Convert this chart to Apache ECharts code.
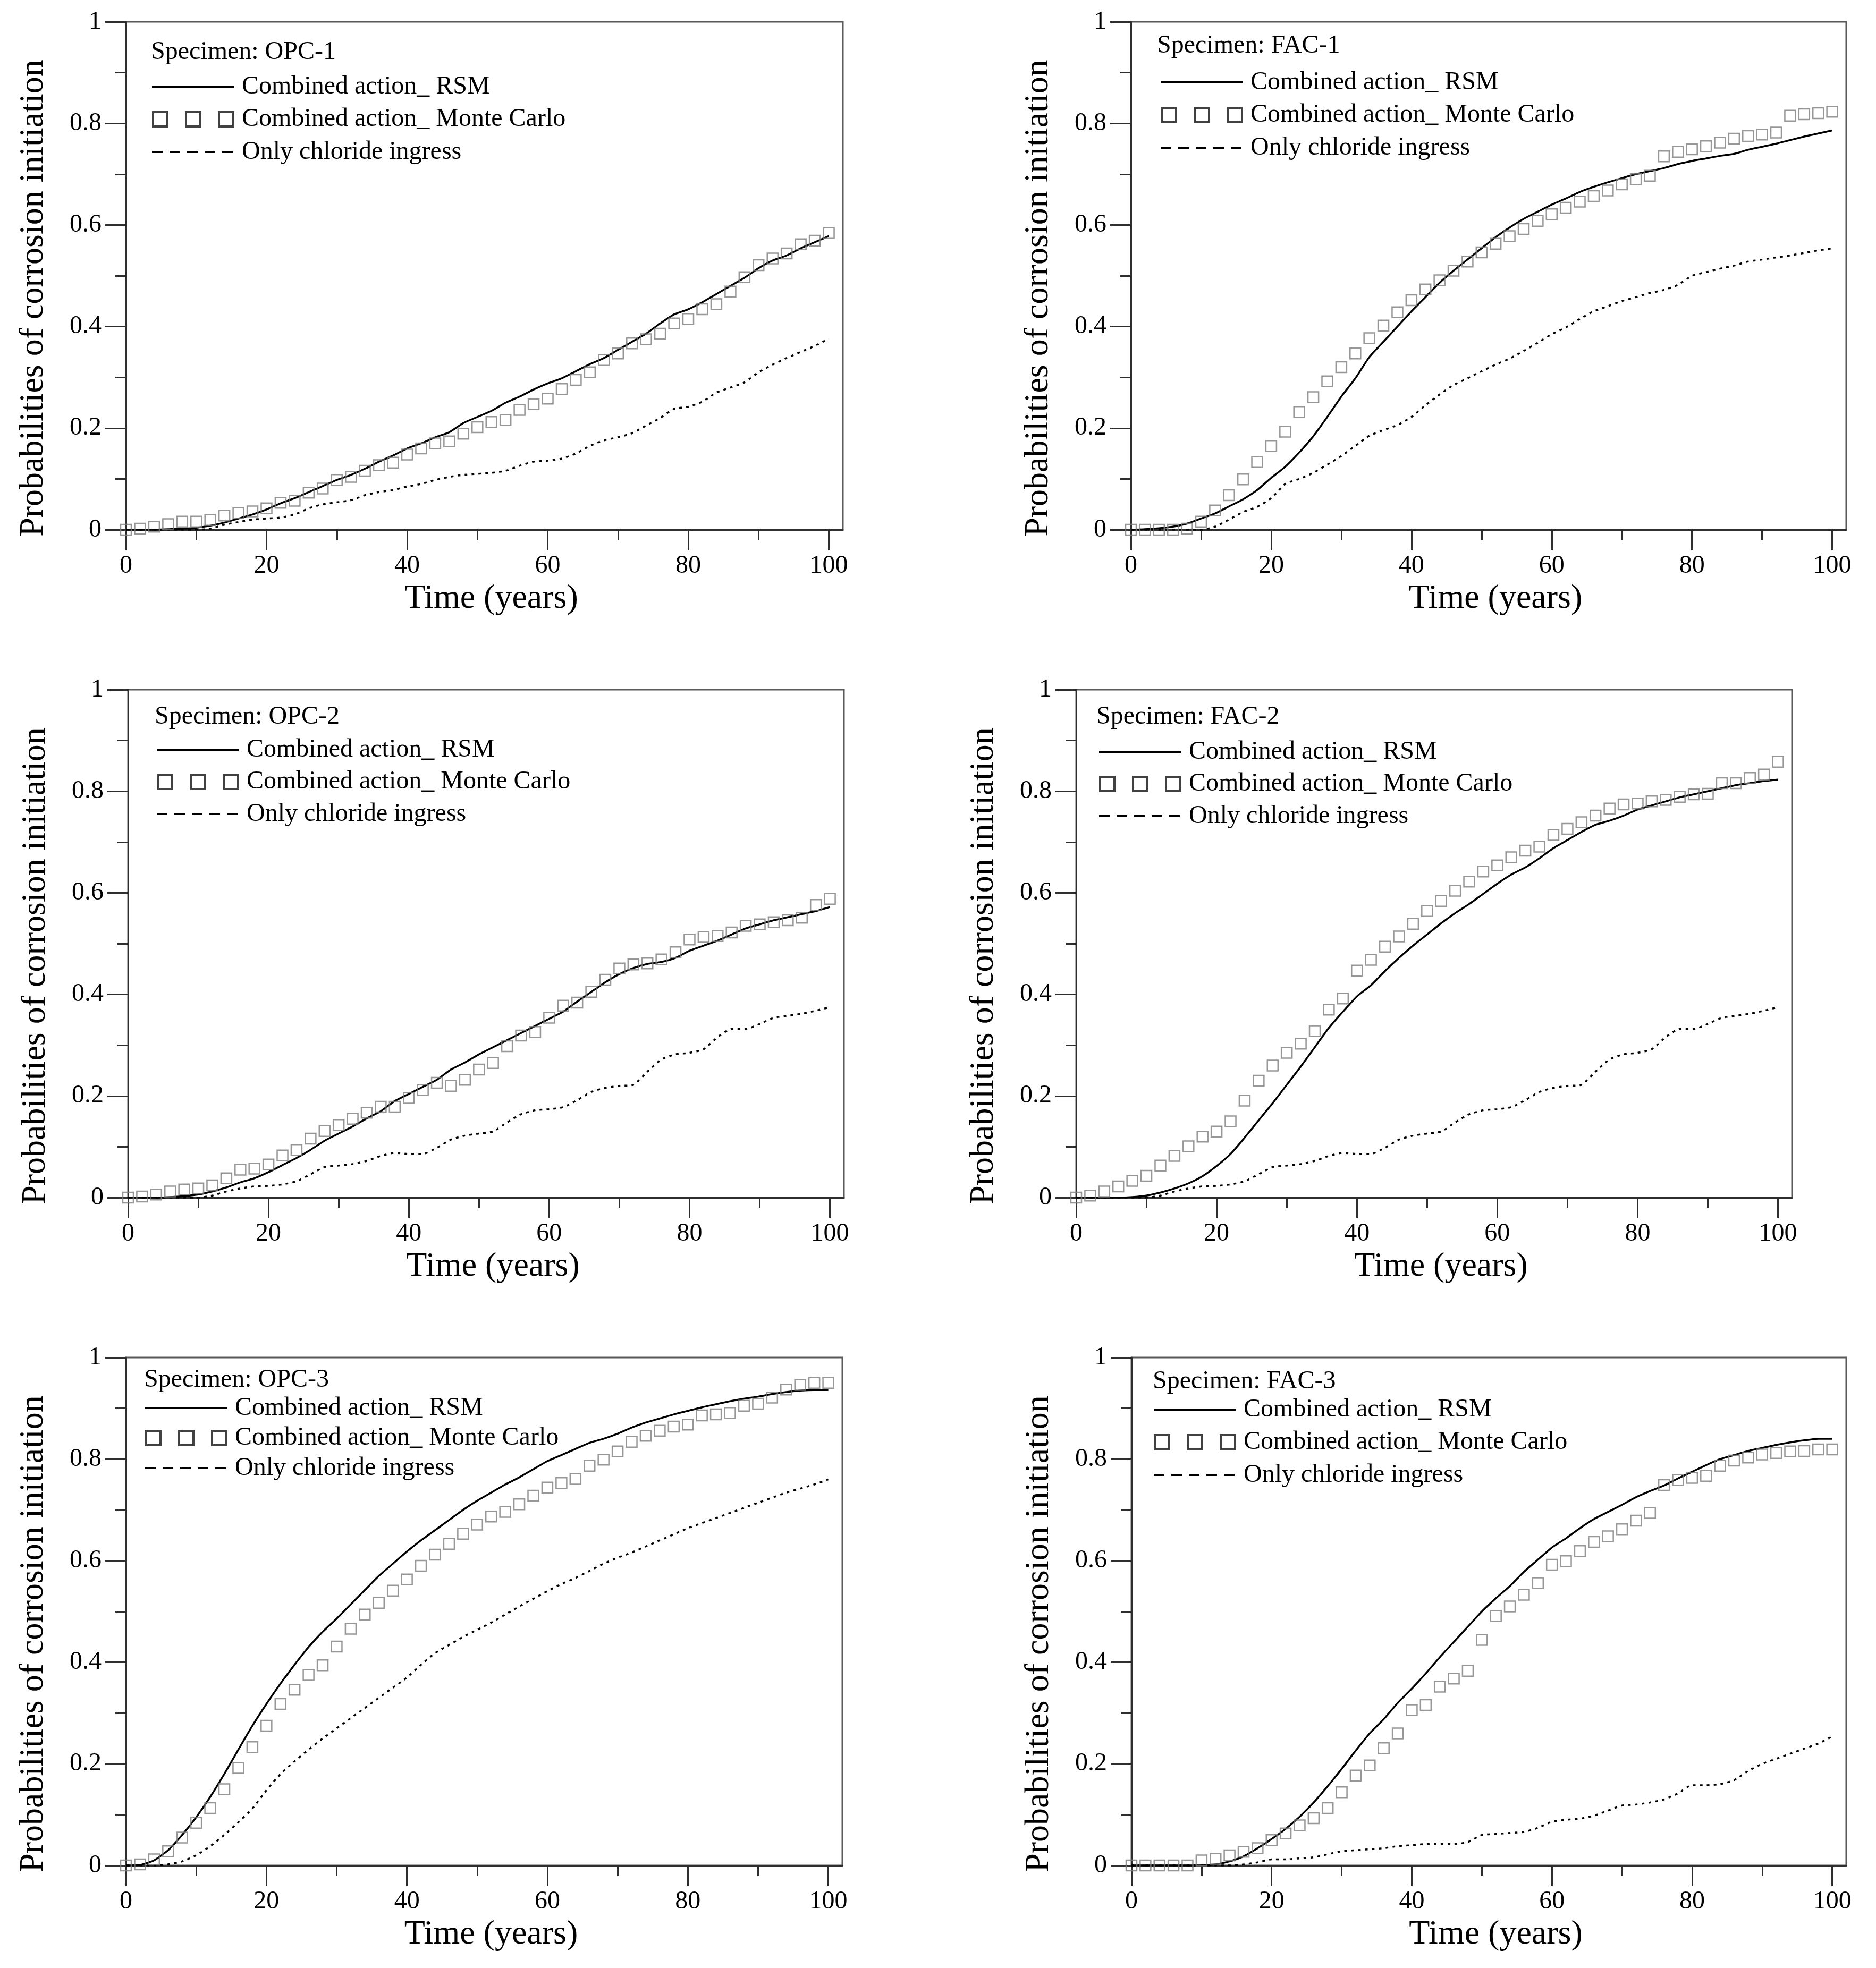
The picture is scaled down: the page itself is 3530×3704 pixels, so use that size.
<!DOCTYPE html>
<html>
<head>
<meta charset="utf-8">
<script src="https://cdn.jsdelivr.net/npm/echarts@6/dist/echarts.min.js"></script>
<style>
html,body{margin:0;padding:0;background:#fff;}
#chart{width:3530px;height:3704px;}
</style>
</head>
<body>
<div id="chart"></div>
<script>
// ---- data ----
const YEARS = [0,2,4,6,8,10,12,14,16,18,20,22,24,26,28,30,32,34,36,38,40,42,44,46,48,50,52,54,56,58,60,62,64,66,68,70,72,74,76,78,80,82,84,86,88,90,92,94,96,98,100];
const X_MAJOR = [0,20,40,60,80,100];
const X_MINOR = [10,30,50,70,90];
const SPECIMENS = ['OPC-1','FAC-1','OPC-2','FAC-2','OPC-3','FAC-3'];
const NAME_RSM = 'Combined action_ RSM';
const NAME_MC = 'Combined action_ Monte Carlo';
const NAME_CL = 'Only chloride ingress';

const OPC1_RSM = [0,0,0,0.001,0.002,0.004,0.008,0.014,0.022,0.03,0.04,0.052,0.062,0.074,0.086,0.098,0.108,0.12,0.134,0.146,0.16,0.17,0.182,0.192,0.21,0.222,0.234,0.25,0.262,0.276,0.288,0.298,0.312,0.326,0.338,0.354,0.37,0.386,0.406,0.424,0.434,0.448,0.464,0.48,0.496,0.515,0.53,0.54,0.554,0.566,0.578];
const OPC1_MC = [0,0.002,0.006,0.011,0.016,0.016,0.019,0.028,0.033,0.036,0.042,0.053,0.057,0.073,0.081,0.098,0.104,0.116,0.127,0.132,0.148,0.160,0.170,0.174,0.189,0.202,0.212,0.216,0.236,0.247,0.258,0.277,0.295,0.310,0.334,0.347,0.367,0.375,0.386,0.406,0.415,0.434,0.444,0.469,0.497,0.521,0.534,0.544,0.562,0.569,0.584];
const OPC1_CL = [0,0,0,0,0,0,0.002,0.01,0.015,0.02,0.022,0.024,0.03,0.042,0.05,0.054,0.058,0.068,0.074,0.078,0.085,0.09,0.098,0.104,0.108,0.11,0.112,0.116,0.126,0.134,0.136,0.14,0.15,0.165,0.176,0.182,0.19,0.205,0.22,0.238,0.242,0.252,0.27,0.28,0.29,0.31,0.325,0.338,0.35,0.362,0.376];

const FAC1_RSM = [0,0.001,0.003,0.006,0.012,0.022,0.032,0.046,0.06,0.078,0.102,0.124,0.152,0.184,0.222,0.262,0.298,0.34,0.37,0.4,0.43,0.458,0.486,0.51,0.532,0.554,0.576,0.595,0.612,0.626,0.64,0.652,0.665,0.675,0.684,0.692,0.7,0.706,0.712,0.72,0.726,0.731,0.736,0.74,0.748,0.754,0.76,0.767,0.774,0.78,0.786];
const FAC1_MC = [0,0,0,0,0.002,0.016,0.038,0.068,0.099,0.133,0.165,0.193,0.232,0.261,0.292,0.320,0.347,0.377,0.402,0.428,0.452,0.473,0.491,0.510,0.528,0.546,0.563,0.578,0.592,0.608,0.621,0.634,0.646,0.657,0.668,0.680,0.690,0.697,0.735,0.744,0.749,0.755,0.762,0.770,0.775,0.778,0.782,0.815,0.818,0.820,0.823];
const FAC1_CL = [0,0,0,0,0,0,0.006,0.02,0.035,0.045,0.062,0.09,0.1,0.112,0.128,0.145,0.165,0.185,0.196,0.206,0.222,0.245,0.266,0.285,0.298,0.312,0.325,0.337,0.352,0.368,0.385,0.398,0.415,0.43,0.44,0.45,0.458,0.466,0.472,0.482,0.5,0.507,0.514,0.52,0.528,0.532,0.536,0.54,0.545,0.55,0.554];

const OPC2_RSM = [0,0,0,0.001,0.003,0.006,0.012,0.02,0.03,0.038,0.05,0.064,0.078,0.094,0.112,0.126,0.14,0.156,0.17,0.19,0.204,0.218,0.232,0.252,0.266,0.282,0.296,0.31,0.324,0.338,0.352,0.366,0.386,0.405,0.424,0.44,0.452,0.46,0.464,0.472,0.486,0.496,0.506,0.518,0.53,0.538,0.546,0.552,0.558,0.564,0.572];
const OPC2_MC = [0,0.002,0.006,0.012,0.016,0.018,0.024,0.038,0.055,0.057,0.065,0.083,0.094,0.116,0.131,0.143,0.155,0.167,0.179,0.179,0.196,0.212,0.226,0.220,0.232,0.252,0.265,0.298,0.319,0.326,0.354,0.378,0.384,0.405,0.429,0.451,0.459,0.461,0.469,0.483,0.508,0.513,0.515,0.522,0.535,0.538,0.542,0.546,0.551,0.576,0.588];
const OPC2_CL = [0,0,0,0,0,0,0.004,0.012,0.018,0.022,0.023,0.026,0.032,0.046,0.06,0.063,0.066,0.072,0.082,0.088,0.086,0.086,0.098,0.114,0.122,0.126,0.13,0.148,0.164,0.172,0.174,0.178,0.192,0.208,0.216,0.22,0.222,0.248,0.272,0.282,0.285,0.292,0.316,0.332,0.332,0.342,0.354,0.358,0.362,0.368,0.375];

const FAC2_RSM = [0,0,0,0,0.001,0.004,0.01,0.018,0.028,0.042,0.062,0.086,0.118,0.152,0.186,0.222,0.258,0.296,0.334,0.366,0.396,0.418,0.446,0.472,0.496,0.518,0.54,0.56,0.578,0.598,0.618,0.636,0.65,0.668,0.688,0.704,0.72,0.734,0.742,0.752,0.764,0.772,0.78,0.788,0.794,0.8,0.806,0.812,0.816,0.82,0.823];
const FAC2_MC = [0,0.004,0.012,0.022,0.033,0.043,0.063,0.082,0.101,0.120,0.130,0.150,0.191,0.230,0.260,0.285,0.303,0.328,0.370,0.392,0.447,0.468,0.494,0.514,0.539,0.564,0.584,0.604,0.622,0.642,0.654,0.670,0.683,0.691,0.714,0.726,0.739,0.752,0.766,0.774,0.776,0.780,0.783,0.789,0.794,0.795,0.816,0.816,0.826,0.833,0.858];
const FAC2_CL = [0,0,0,0,0,0,0.004,0.012,0.018,0.022,0.023,0.026,0.032,0.046,0.06,0.063,0.066,0.072,0.082,0.088,0.086,0.086,0.098,0.114,0.122,0.126,0.13,0.148,0.164,0.172,0.174,0.178,0.192,0.208,0.216,0.22,0.222,0.248,0.272,0.282,0.285,0.292,0.316,0.332,0.332,0.342,0.354,0.358,0.362,0.368,0.375];

const OPC3_RSM = [0,0.001,0.01,0.03,0.06,0.095,0.135,0.18,0.228,0.275,0.318,0.358,0.395,0.43,0.46,0.486,0.514,0.542,0.57,0.594,0.618,0.64,0.66,0.68,0.7,0.718,0.734,0.75,0.764,0.78,0.796,0.808,0.82,0.832,0.84,0.85,0.862,0.872,0.88,0.888,0.895,0.902,0.908,0.914,0.919,0.923,0.928,0.932,0.935,0.936,0.936];
const OPC3_MC = [0,0.002,0.012,0.028,0.055,0.084,0.113,0.150,0.192,0.233,0.275,0.318,0.346,0.375,0.394,0.431,0.466,0.494,0.517,0.541,0.563,0.590,0.612,0.633,0.653,0.671,0.687,0.696,0.711,0.728,0.744,0.753,0.761,0.787,0.799,0.815,0.834,0.846,0.856,0.864,0.868,0.886,0.888,0.891,0.905,0.909,0.921,0.937,0.946,0.950,0.950];
const OPC3_CL = [0,0,0,0.002,0.008,0.02,0.038,0.06,0.085,0.112,0.148,0.18,0.205,0.228,0.25,0.27,0.29,0.31,0.33,0.35,0.37,0.395,0.418,0.434,0.45,0.464,0.478,0.494,0.51,0.525,0.54,0.554,0.566,0.58,0.594,0.606,0.616,0.628,0.64,0.652,0.664,0.674,0.684,0.694,0.704,0.714,0.724,0.734,0.742,0.75,0.76];

const FAC3_RSM = [0,0,0,0,0,0,0.002,0.008,0.018,0.034,0.052,0.072,0.096,0.124,0.156,0.19,0.226,0.26,0.288,0.32,0.348,0.378,0.41,0.44,0.47,0.5,0.526,0.55,0.578,0.602,0.626,0.644,0.664,0.682,0.696,0.71,0.725,0.737,0.748,0.762,0.775,0.788,0.8,0.808,0.816,0.822,0.828,0.833,0.837,0.84,0.84];
const FAC3_MC = [0,0,0,0,0,0.010,0.013,0.020,0.027,0.034,0.050,0.063,0.079,0.093,0.113,0.144,0.177,0.197,0.231,0.260,0.306,0.316,0.352,0.368,0.383,0.444,0.491,0.510,0.533,0.556,0.592,0.599,0.619,0.637,0.648,0.662,0.679,0.694,0.749,0.759,0.763,0.767,0.787,0.797,0.803,0.809,0.812,0.815,0.816,0.819,0.819];
const FAC3_CL = [0,0,0,0,0,0,0,0,0.002,0.006,0.012,0.012,0.014,0.016,0.022,0.028,0.03,0.032,0.034,0.038,0.04,0.042,0.042,0.042,0.046,0.06,0.062,0.064,0.066,0.074,0.086,0.09,0.092,0.098,0.108,0.118,0.12,0.124,0.13,0.142,0.158,0.158,0.16,0.168,0.186,0.2,0.21,0.22,0.23,0.24,0.254];

const PANEL_DATA = [
  [OPC1_RSM, OPC1_MC, OPC1_CL],
  [FAC1_RSM, FAC1_MC, FAC1_CL],
  [OPC2_RSM, OPC2_MC, OPC2_CL],
  [FAC2_RSM, FAC2_MC, FAC2_CL],
  [OPC3_RSM, OPC3_MC, OPC3_CL],
  [FAC3_RSM, FAC3_MC, FAC3_CL]
];

// ---- layout (pixels) ----
const LAYOUT = [
  {left:237,  top:41,   width:1349, specX:47, specY:57, iconX:47, row1:122, step:61.5},
  {left:2128, top:41,   width:1346, specX:49, specY:45, iconX:54, row1:114, step:61.5},
  {left:241,  top:1298, width:1347, specX:50, specY:51, iconX:52, row1:113, step:60.5},
  {left:2025, top:1298, width:1347, specX:38, specY:51, iconX:41, row1:117, step:60.5},
  {left:237,  top:2555, width:1348, specX:34, specY:42, iconX:34, row1:95,  step:56.5},
  {left:2129, top:2555, width:1345, specX:40, specY:45, iconX:40, row1:98,  step:61.5}
];
const PLOT_H = 956;
const FONT = 'Liberation Serif';
const AX = '#2e2e2e';
const SQ3 = 'path://M0,0H31V31H0Z M4,4V27H27V4Z M62,0H93V31H62Z M66,4V27H89V4Z M124,0H155V31H124Z M128,4V27H151V4Z';

const grid = [], xAxis = [], yAxis = [], series = [], title = [], legend = [];
LAYOUT.forEach((L, i) => {
  grid.push({left:L.left, top:L.top, width:L.width, height:PLOT_H, show:true,
    borderColor:'#5a5a5a', borderWidth:3, backgroundColor:'transparent', containLabel:false});
  xAxis.push({type:'value', gridIndex:i, min:0, max:102, position:'bottom',
    name:'Time (years)', nameLocation:'middle', nameGap:98,
    nameTextStyle:{fontFamily:FONT, fontSize:64, color:'#000', padding:[0,0,0,26]},
    axisLine:{show:true, onZero:false, lineStyle:{color:AX, width:3}},
    axisTick:{show:true, inside:false, length:39, customValues:X_MAJOR, lineStyle:{color:AX, width:3}},
    axisLabel:{show:true, margin:44, customValues:X_MAJOR, fontFamily:FONT, fontSize:48, color:'#000'},
    splitLine:{show:false}, minorTick:{show:false}});
  xAxis.push({type:'value', gridIndex:i, min:0, max:102, position:'bottom', offset:0,
    axisLine:{show:false},
    axisTick:{show:true, inside:false, length:20, customValues:X_MINOR, lineStyle:{color:AX, width:3}},
    axisLabel:{show:false}, splitLine:{show:false}});
  yAxis.push({type:'value', gridIndex:i, min:0, max:1, interval:0.2, position:'left',
    name:'Probabilities of corrosion initiation', nameLocation:'middle', nameGap:142,
    nameTextStyle:{fontFamily:FONT, fontSize:64, color:'#000', padding:[0,84,0,0]},
    axisLine:{show:true, onZero:false, lineStyle:{color:AX, width:3}},
    axisTick:{show:true, inside:false, length:39, lineStyle:{color:AX, width:3}},
    minorTick:{show:true, splitNumber:2, length:20, lineStyle:{color:AX, width:3}},
    axisLabel:{margin:46, fontFamily:FONT, fontSize:48, color:'#000'},
    splitLine:{show:false}, minorSplitLine:{show:false}});
  const [rsm, mc, cl] = PANEL_DATA[i];
  series.push({type:'line', name:NAME_RSM, xAxisIndex:2*i, yAxisIndex:i, symbol:'none', smooth:0.2,
    data:YEARS.map((x, k) => [x, rsm[k]]), lineStyle:{color:'#000', width:3.5}, itemStyle:{color:'#000'}, z:3});
  series.push({type:'scatter', name:NAME_MC, xAxisIndex:2*i, yAxisIndex:i, symbol:'rect', symbolSize:20,
    data:YEARS.map((x, k) => [x, mc[k]]),
    itemStyle:{color:'rgba(0,0,0,0)', borderColor:'#7d7d7d', borderWidth:2.5}, z:4});
  series.push({type:'line', name:NAME_CL, xAxisIndex:2*i, yAxisIndex:i, symbol:'none', smooth:0.2,
    data:YEARS.map((x, k) => [x, cl[k]]), lineStyle:{color:'#000', width:3.5, type:[5,8]}, itemStyle:{color:'#000'}, z:3});
  title.push({text:'Specimen: ' + SPECIMENS[i], left:L.left + L.specX, top:L.top + L.specY - 26, padding:0,
    textStyle:{fontFamily:FONT, fontSize:48, fontWeight:'normal', color:'#000', lineHeight:52}});
  legend.push({orient:'vertical', left:L.left + L.iconX, top:L.top + L.row1 - 24, padding:0,
    itemWidth:155, itemHeight:31, itemGap:L.step - 48, selectedMode:false,
    textStyle:{fontFamily:FONT, fontSize:48, color:'#000', lineHeight:48, padding:[0,0,0,9]},
    data:[
      {name:NAME_RSM, lineStyle:{color:'#000', width:4, type:'solid'}, itemStyle:{opacity:0, color:'rgba(0,0,0,0)', borderWidth:0}},
      {name:NAME_MC, icon:SQ3, itemStyle:{color:'#111', borderWidth:0}},
      {name:NAME_CL, lineStyle:{color:'#000', width:4, type:[20,13]}, itemStyle:{opacity:0, color:'rgba(0,0,0,0)', borderWidth:0}}
    ]});
});

const chart = echarts.init(document.getElementById('chart'), null, {renderer:'canvas'});
chart.setOption({animation:false, backgroundColor:'#fff', grid, xAxis, yAxis, series, title, legend});
</script>
</body>
</html>
